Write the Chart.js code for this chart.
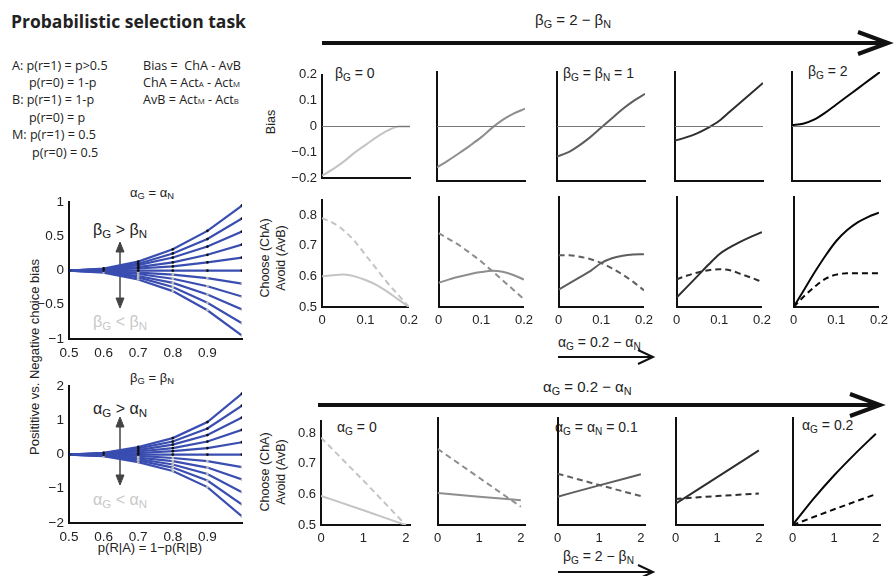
<!DOCTYPE html>
<html><head><meta charset="utf-8">
<script src="https://cdn.jsdelivr.net/npm/chart.js@4"></script>
<style>
body{margin:0;background:#fff;width:896px;height:576px;position:relative;overflow:hidden;font-family:"Liberation Sans",Arial,sans-serif;color:#222;}
.t{position:absolute;white-space:nowrap;line-height:1;}
.os{font-family:"Open Sans",sans-serif;font-size:12.6px;}
canvas{position:absolute;}
sub{font-size:0.72em;vertical-align:-0.28em;line-height:0;}
.sc{font-size:0.62em;}
svg{position:absolute;left:0;top:0;}
</style>
</head><body>
<svg width="896" height="576">
  <g stroke="#111" fill="none" stroke-linecap="butt">
    <line x1="322" y1="43" x2="886" y2="43" stroke-width="4"/>
    <polyline points="858,32 888,43 858,54" stroke-width="4"/>
    <line x1="318" y1="405" x2="878" y2="405" stroke-width="4"/>
    <polyline points="850,394 880,405 850,416" stroke-width="4"/>
    <line x1="558" y1="357" x2="652" y2="357" stroke-width="2"/>
    <polyline points="638,350 653,357 638,364" stroke-width="2"/>
    <line x1="558" y1="572" x2="652" y2="572" stroke-width="2"/>
    <polyline points="638,565 653,572 638,579" stroke-width="2"/>
  </g>
  <g stroke="#444" fill="#444">
    <line x1="120" y1="250" x2="120" y2="300" stroke-width="1.5"/>
    <polygon points="116,252 120,242 124,252"/>
    <polygon points="116,298 120,308 124,298"/>
    <line x1="120" y1="425" x2="120" y2="477" stroke-width="1.5"/>
    <polygon points="116,427 120,417 124,427"/>
    <polygon points="116,475 120,485 124,475"/>
  </g>
</svg>

<div class="t" style="left:11px;top:13px;font-family:'Open Sans',sans-serif;font-size:17.5px;font-weight:700;color:#222">Probabilistic selection task</div>
<div class="t os" style="left:12px;top:60px">A: p(r=1) = p&gt;0.5</div>
<div class="t os" style="left:29px;top:77px">p(r=0) = 1-p</div>
<div class="t os" style="left:12px;top:94px">B: p(r=1) = 1-p</div>
<div class="t os" style="left:29px;top:112px">p(r=0) = p</div>
<div class="t os" style="left:12px;top:129px">M: p(r=1) = 0.5</div>
<div class="t os" style="left:32px;top:147px">p(r=0) = 0.5</div>
<div class="t os" style="left:143px;top:60px">Bias = &nbsp;ChA - AvB</div>
<div class="t os" style="left:143px;top:77px">ChA = Act<span class="sc">A</span> - Act<span class="sc">M</span></div>
<div class="t os" style="left:143px;top:94px">AvB = Act<span class="sc">M</span> - Act<span class="sc">B</span></div>

<div id="texts"></div>

<script>
// ---------------- data ----------------
const fanX = [0.5, 0.6, 0.7, 0.8, 0.9, 1.0];
const fanXTicks = [0.5, 0.6, 0.7, 0.8, 0.9];
const fanTopYTicks = [-1, -0.5, 0, 0.5, 1];
const fanBotYTicks = [-2, -1, 0, 1, 2];
// alpha_G = alpha_N : bias for varying beta_G - beta_N
const fanTopSeries = [
  [0, 0.03, 0.13, 0.31, 0.58, 0.95],
  [0, 0.02, 0.10, 0.25, 0.46, 0.76],
  [0, 0.02, 0.08, 0.19, 0.35, 0.57],
  [0, 0.01, 0.05, 0.12, 0.23, 0.38],
  [0, 0.01, 0.03, 0.06, 0.12, 0.19],
  [0, 0, 0, 0, 0, 0],
  [0, -0.01, -0.03, -0.06, -0.11, -0.19],
  [0, -0.01, -0.05, -0.12, -0.23, -0.38],
  [0, -0.02, -0.08, -0.18, -0.35, -0.57],
  [0, -0.02, -0.10, -0.24, -0.47, -0.77],
  [0, -0.03, -0.13, -0.30, -0.58, -0.95]
];
// beta_G = beta_N : bias for varying alpha_G - alpha_N
const fanBotSeries = [
  [0, 0.05, 0.22, 0.48, 0.95, 1.78],
  [0, 0.04, 0.18, 0.38, 0.76, 1.43],
  [0, 0.03, 0.13, 0.29, 0.57, 1.08],
  [0, 0.02, 0.09, 0.19, 0.38, 0.72],
  [0, 0.01, 0.04, 0.10, 0.19, 0.36],
  [0, 0, 0, 0, 0, 0],
  [0, -0.01, -0.04, -0.10, -0.19, -0.37],
  [0, -0.02, -0.09, -0.19, -0.38, -0.73],
  [0, -0.03, -0.13, -0.29, -0.57, -1.10],
  [0, -0.04, -0.17, -0.38, -0.76, -1.46],
  [0, -0.05, -0.22, -0.48, -0.95, -1.81]
];

const alphaX = [0, 0.025, 0.05, 0.075, 0.1, 0.125, 0.15, 0.175, 0.2];
const alphaXTicks = [0, 0.1, 0.2];
const biasYTicks = [-0.2, -0.1, 0, 0.1, 0.2];
const chooseYTicks = [0.5, 0.6, 0.7, 0.8];
// Bias row (beta_G = 0, 0.5, 1, 1.5, 2)
const biasB0 = [-0.19, -0.165, -0.135, -0.10, -0.07, -0.04, -0.015, 0, 0];
const biasB05 = [-0.15, -0.125, -0.098, -0.07, -0.04, -0.005, 0.025, 0.048, 0.065];
const biasB1 = [-0.11, -0.095, -0.07, -0.04, -0.005, 0.03, 0.065, 0.095, 0.12];
const biasB15 = [-0.052, -0.04, -0.025, -0.005, 0.02, 0.055, 0.09, 0.125, 0.16];
const biasB2 = [0.005, 0.01, 0.025, 0.05, 0.08, 0.11, 0.14, 0.17, 0.2];
// Choose (solid) / Avoid (dashed) vs alpha_G
const chooseB0 = [0.6, 0.604, 0.606, 0.6, 0.588, 0.572, 0.55, 0.525, 0.5];
const avoidB0 = [0.79, 0.775, 0.75, 0.715, 0.67, 0.625, 0.58, 0.54, 0.5];
const chooseB05 = [0.577, 0.588, 0.597, 0.605, 0.611, 0.615, 0.612, 0.602, 0.587];
const avoidB05 = [0.735, 0.715, 0.695, 0.67, 0.645, 0.615, 0.585, 0.555, 0.525];
const chooseB1 = [0.555, 0.575, 0.595, 0.615, 0.64, 0.655, 0.663, 0.667, 0.668];
const avoidB1 = [0.665, 0.665, 0.66, 0.652, 0.64, 0.623, 0.603, 0.58, 0.553];
const chooseB15 = [0.53, 0.565, 0.6, 0.635, 0.668, 0.69, 0.708, 0.724, 0.738];
const avoidB15 = [0.588, 0.6, 0.61, 0.617, 0.62, 0.617, 0.605, 0.593, 0.58];
const chooseB2 = [0.5, 0.556, 0.612, 0.664, 0.71, 0.744, 0.769, 0.787, 0.8];
const avoidB2 = [0.5, 0.535, 0.565, 0.59, 0.603, 0.607, 0.607, 0.607, 0.607];
// Choose / Avoid vs beta_G (alpha_G = 0, 0.05, 0.1, 0.15, 0.2)
const betaX = [0, 1, 2];
const betaXFine = [0, 0.5, 1, 1.5, 2];
const betaXTicks = [0, 1, 2];
const chooseA0 = [0.595, 0.548, 0.5];
const avoidA0 = [0.785, 0.645, 0.5];
const chooseA05 = [0.602, 0.59, 0.579];
const avoidA05 = [0.742, 0.65, 0.558];
const chooseA1 = [0.59, 0.626, 0.661];
const avoidA1 = [0.663, 0.627, 0.592];
const chooseA15 = [0.568, 0.652, 0.737];
const avoidA15 = [0.583, 0.592, 0.6];
const chooseA2 = [0.5, 0.583, 0.658, 0.726, 0.79];
const avoidA2 = [0.5, 0.55, 0.598];

// ---------------- drawing ----------------
const shades = ['#c4c4c4', '#8e8e8e', '#5e5e5e', '#2e2e2e', '#080808'];
const blue = '#3a4db0';
const fmt = v => (v < 0 ? '\u2212' : '') + String(Math.abs(v));
const pts = (xs, ys) => xs.map((x, i) => ({x, y: ys[i]}));

function panel(o) {
  const padL = o.padL ?? 42, padR = o.padR ?? 14, padT = o.padT ?? 10, padB = o.padB ?? 24;
  const c = document.createElement('canvas');
  const w = o.W + padL + padR, h = o.H + padT + padB;
  c.width = w; c.height = h;
  c.style.width = w + 'px'; c.style.height = h + 'px';
  c.style.left = (o.L - padL) + 'px'; c.style.top = (o.T - padT) + 'px';
  document.body.appendChild(c);
  const font = {family: '"Liberation Sans", Arial, sans-serif', size: o.fs ?? 13};
  new Chart(c, {
    type: 'line',
    data: {datasets: o.datasets},
    options: {
      responsive: false, animation: false, events: [],
      layout: {padding: {left: 0, right: padR, top: padT, bottom: 0}},
      plugins: {legend: {display: false}, tooltip: {enabled: false}},
      elements: {point: {radius: 0}, line: {tension: 0}},
      scales: {
        x: {
          type: 'linear', min: o.xMin, max: o.xMax,
          afterFit: s => { s.height = padB; },
          afterBuildTicks: s => { s.ticks = o.xTicks.map(v => ({value: v})); },
          ticks: {display: !!o.showX, color: '#222', font, padding: 6, maxRotation: 0, autoSkip: false, callback: fmt},
          grid: {display: false, drawTicks: false},
          border: {display: true, color: '#111', width: 2}
        },
        y: {
          type: 'linear', min: o.yMin, max: o.yMax,
          afterFit: s => { s.width = padL; },
          afterBuildTicks: s => { s.ticks = o.yTicks.map(v => ({value: v})); },
          ticks: {display: !!o.showY, color: '#222', font, padding: 5, autoSkip: false, callback: fmt},
          grid: {display: false, drawTicks: false},
          border: {display: true, color: '#111', width: 2}
        }
      }
    }
  });
}

function fanSets(series) {
  return series.map((s, i) => ({
    data: pts(fanX, s), borderColor: blue, borderWidth: 2.2,
    pointRadius: 1.4, pointBorderWidth: 0,
    pointBackgroundColor: i <= 5 ? '#111' : '#bdbdbd'
  }));
}

panel({L: 69, T: 199, W: 173, H: 140, xMin: 0.5, xMax: 1, yMin: -1, yMax: 1, fs: 13.5,
  xTicks: fanXTicks, yTicks: fanTopYTicks, showX: true, showY: true, padL: 40, padR: 12, datasets: fanSets(fanTopSeries)});
panel({L: 69, T: 383, W: 173, H: 140, xMin: 0.5, xMax: 1, yMin: -2, yMax: 2, fs: 13.5,
  xTicks: fanXTicks, yTicks: fanBotYTicks, showX: true, showY: true, padL: 40, padR: 12, datasets: fanSets(fanBotSeries)});

const colX = [322, 437, 557, 675, 792];
const biasRows = [biasB0, biasB05, biasB1, biasB15, biasB2];
const chooseAlpha = [chooseB0, chooseB05, chooseB1, chooseB15, chooseB2];
const avoidAlpha = [avoidB0, avoidB05, avoidB1, avoidB15, avoidB2];
const chooseBeta = [chooseA0, chooseA05, chooseA1, chooseA15, chooseA2];
const avoidBeta = [avoidA0, avoidA05, avoidA1, avoidA15, avoidA2];
const smooth = {cubicInterpolationMode: 'monotone'};

colX.forEach((L, i) => {
  const col = shades[i];
  const first = i === 0;
  panel({L, T: 72, W: 88, H: 109, xMin: 0, xMax: 0.2, yMin: -0.2, yMax: 0.2,
    xTicks: alphaXTicks, yTicks: biasYTicks, showX: false, showY: first, padL: first ? 42 : 8, padB: 10,
    datasets: [
      {data: pts([0, 0.2], [0, 0]), borderColor: '#777', borderWidth: 1.2},
      {data: pts(alphaX, biasRows[i]), borderColor: col, borderWidth: 2, ...smooth}
    ]});
  panel({L, T: 197, W: 88, H: 110, xMin: 0, xMax: 0.2, yMin: 0.5, yMax: 0.85,
    xTicks: alphaXTicks, yTicks: chooseYTicks, showX: true, showY: first, padL: first ? 42 : 8,
    datasets: [
      {data: pts(alphaX, avoidAlpha[i]), borderColor: col, borderWidth: 2, borderDash: [6, 4], ...smooth},
      {data: pts(alphaX, chooseAlpha[i]), borderColor: col, borderWidth: 2, ...smooth}
    ]});
  const cx = chooseBeta[i].length === betaXFine.length ? betaXFine : betaX;
  panel({L: L - 1, T: 418, W: 89, H: 107, xMin: 0, xMax: 2.1, yMin: 0.5, yMax: 0.84,
    xTicks: betaXTicks, yTicks: chooseYTicks, showX: true, showY: first, padL: first ? 42 : 8,
    datasets: [
      {data: pts(betaX, avoidBeta[i]), borderColor: col, borderWidth: 2, borderDash: [6, 4]},
      {data: pts(cx, chooseBeta[i]), borderColor: col, borderWidth: 2, ...smooth}
    ]});
});

// ---------------- text ----------------
const T = document.getElementById('texts');
function txt(html, x, y, opt = {}) {
  const d = document.createElement('div');
  d.className = 't';
  d.innerHTML = html;
  d.style.left = x + 'px'; d.style.top = y + 'px';
  d.style.fontSize = (opt.fs || 14) + 'px';
  if (opt.color) d.style.color = opt.color;
  const ax = opt.anchor === 'l' ? '0' : '-50%';
  d.style.transform = `translate(${ax},-50%)`;
  if (opt.rot) { d.style.transformOrigin = '0 0'; d.style.transform = 'rotate(-90deg) translate(-50%,-50%)'; }
  T.appendChild(d);
}
const b = s => `\u03b2<sub>${s}</sub>`;
const a = s => `\u03b1<sub>${s}</sub>`;
txt(`${b('G')} = 2 \u2212 ${b('N')}`, 573, 19, {fs: 15});
txt(`${b('G')} = 0`, 335, 73, {anchor: 'l'});
txt(`${b('G')} = ${b('N')} = 1`, 563, 73, {anchor: 'l'});
txt(`${b('G')} = 2`, 808, 71, {anchor: 'l'});
txt(`${a('G')} = 0.2 \u2212 ${a('N')}`, 558, 342, {anchor: 'l'});
txt(`${a('G')} = 0.2 \u2212 ${a('N')}`, 543, 386, {anchor: 'l', fs: 15});
txt(`${a('G')} = 0`, 337, 427, {anchor: 'l'});
txt(`${a('G')} = ${a('N')} = 0.1`, 555, 427, {anchor: 'l'});
txt(`${a('G')} = 0.2`, 802, 425, {anchor: 'l'});
txt(`${b('G')} = 2 \u2212 ${b('N')}`, 563, 556, {anchor: 'l'});
txt('Bias', 271, 122, {rot: true, fs: 12.5});
txt('Choose (ChA)', 265, 258, {rot: true, fs: 12.5});
txt('Avoid (AvB)', 281, 258, {rot: true, fs: 12.5});
txt('Choose (ChA)', 265, 472, {rot: true, fs: 12.5});
txt('Avoid (AvB)', 281, 472, {rot: true, fs: 12.5});
txt('Posititive vs. Negative choice bias', 34, 357, {rot: true, fs: 13});
txt(`${a('G')} = ${a('N')}`, 152, 192, {fs: 13});
txt(`${b('G')} &gt; ${b('N')}`, 120, 230, {fs: 16});
txt(`${b('G')} &lt; ${b('N')}`, 120, 322, {fs: 16, color: '#c8c8c8'});
txt(`${b('G')} = ${b('N')}`, 152, 377, {fs: 13});
txt(`${a('G')} &gt; ${a('N')}`, 120, 409, {fs: 16});
txt(`${a('G')} &lt; ${a('N')}`, 120, 500, {fs: 16, color: '#c8c8c8'});
txt('p(R|A) = 1\u2212p(R|B)', 150, 547, {fs: 13});
</script>
</body></html>
